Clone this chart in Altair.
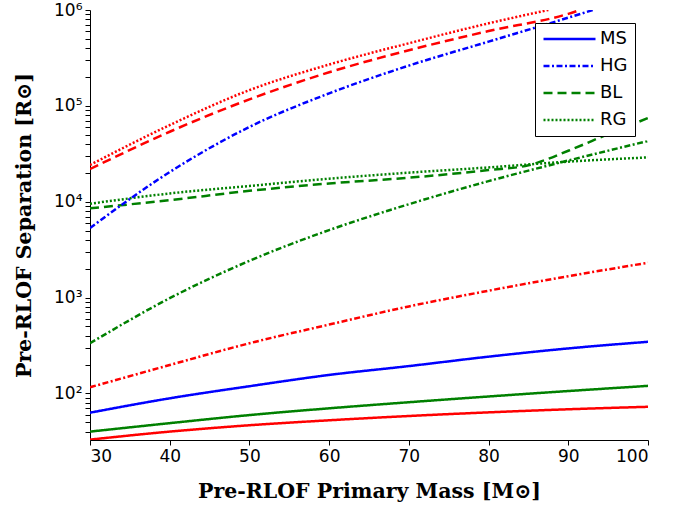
import altair as alt
import pandas as pd

# Primary mass grid (Msun) shared by most curves
mass = [30, 40, 50, 60, 70, 80, 90, 100]

# Red family
red_ms = [33, 40, 46.6, 52.5, 58.2, 63.5, 68.4, 72.6]
red_hg = [116, 198, 334, 523, 809, 1180, 1672, 2310]
red_bl_mass = [30, 40, 50, 60, 70, 80, 90, 91.5]
red_bl = [21900, 53700, 117000, 224000, 380000, 603000, 912000, 1000000]
red_rg_mass = [30, 40, 50, 60, 70, 80, 87.5]
red_rg = [24200, 63000, 146000, 270000, 450000, 726000, 1000000]

# Green family
green_ms = [40, 49, 59.5, 70, 81, 93, 106, 120]
green_hg = [334, 986, 2420, 5060, 9420, 16400, 26900, 43000]
green_bl_mass = [30, 40, 50, 60, 70, 80, 85, 90, 95, 100]
green_bl = [8530, 10400, 13000, 15500, 17800, 21400, 24000, 34000, 50800, 74600]
green_rg = [9530, 12200, 14600, 17400, 20100, 22800, 26200, 29000]

# Blue family
blue_ms = [63, 89, 119, 156, 193, 242, 295, 346]
blue_hg_mass = [30, 40, 50, 60, 70, 80, 90, 93.1]
blue_hg = [5320, 20400, 60300, 135000, 263000, 468000, 832000, 1000000]

phases = ["MS", "HG", "BL", "RG"]
families = ["red", "green", "blue"]
family_colors = ["#ff0000", "#008000", "#0000ff"]
legend_colors = ["#0000ff", "#0000ff", "#008000", "#008000"]
dashes = [[1, 0], [6, 2.5, 2, 2.5], [9, 5], [2, 2]]

series = [
    ("red", "MS", mass, red_ms),
    ("red", "HG", mass, red_hg),
    ("red", "BL", red_bl_mass, red_bl),
    ("red", "RG", red_rg_mass, red_rg),
    ("green", "MS", mass, green_ms),
    ("green", "HG", mass, green_hg),
    ("green", "BL", green_bl_mass, green_bl),
    ("green", "RG", mass, green_rg),
    ("blue", "MS", mass, blue_ms),
    ("blue", "HG", blue_hg_mass, blue_hg),
]

rows = []
for fam, ph, xs, ys in series:
    for x, y in zip(xs, ys):
        rows.append({"mass": x, "sep": y, "family": fam, "phase": ph,
                     "curve": f"{fam}-{ph}"})
df = pd.DataFrame(rows)

y_ticks = [40, 50, 60, 70, 80, 90]
for decade in [100, 1000, 10000, 100000]:
    y_ticks += [decade * k for k in range(1, 10)]
y_ticks.append(1000000)

label_expr = ("datum.value == 100 ? '10²' : datum.value == 1000 ? '10³' : "
              "datum.value == 10000 ? '10⁴' : datum.value == 100000 ? '10⁵' : "
              "datum.value == 1000000 ? '10⁶' : ''")

x_enc = alt.X("mass:Q",
              scale=alt.Scale(domain=[30, 100], nice=False, zero=False),
              axis=alt.Axis(values=[30, 40, 50, 60, 70, 80, 90, 100],
                            title="Pre-RLOF Primary Mass [M⊙]",
                            titlePadding=17))
y_enc = alt.Y("sep:Q",
              scale=alt.Scale(type="log", domain=[32.7, 1000000], nice=False),
              axis=alt.Axis(values=y_ticks, labelExpr=label_expr,
                            title="Pre-RLOF Separation [R⊙]",
                            titlePadding=19))

curves = alt.Chart(df).mark_line(strokeWidth=2.5, clip=True,
                                 interpolate="monotone").encode(
    x=x_enc,
    y=y_enc,
    detail="curve:N",
    color=alt.Color("family:N",
                    scale=alt.Scale(domain=families, range=family_colors),
                    legend=None),
    strokeDash=alt.StrokeDash("phase:N",
                              scale=alt.Scale(domain=phases, range=dashes),
                              legend=None),
)

# Legend-only layer: no rows drawn, the legend shows the four line styles
key = alt.Chart(df).transform_filter("false").mark_line(strokeWidth=2.5).encode(
    x=alt.X("mass:Q"),
    y=alt.Y("sep:Q"),
    color=alt.Color("phase:N",
                    scale=alt.Scale(domain=phases, range=legend_colors),
                    legend=alt.Legend(title=None, orient="top-right", offset=13,
                                      strokeColor="black", fillColor="white",
                                      padding=7, cornerRadius=0,
                                      symbolType="stroke", symbolSize=2704,
                                      symbolStrokeWidth=2.5, clipHeight=18,
                                      rowPadding=9, labelOffset=3,
                                      labelFont="DejaVu Sans", labelFontSize=18,
                                      labelColor="black")),
    strokeDash=alt.StrokeDash("phase:N",
                              scale=alt.Scale(domain=phases, range=dashes),
                              legend=alt.Legend(title=None)),
)

chart = alt.layer(curves, key).resolve_scale(
    color="independent", strokeDash="independent"
).properties(
    width=558, height=430,
    autosize="none",
    padding={"left": 90, "top": 10, "right": 46, "bottom": 68},
).configure_view(stroke=None).configure_axis(
    grid=False,
    domainColor="black", tickColor="black", labelColor="black",
    titleColor="black",
    labelFont="DejaVu Sans", labelFontSize=17,
    titleFont="DejaVu Serif", titleFontWeight="bold", titleFontSize=20.5,
    tickSize=5, labelPadding=3,
)

chart.save("out.html", embed_options={"renderer": "svg", "actions": False})
